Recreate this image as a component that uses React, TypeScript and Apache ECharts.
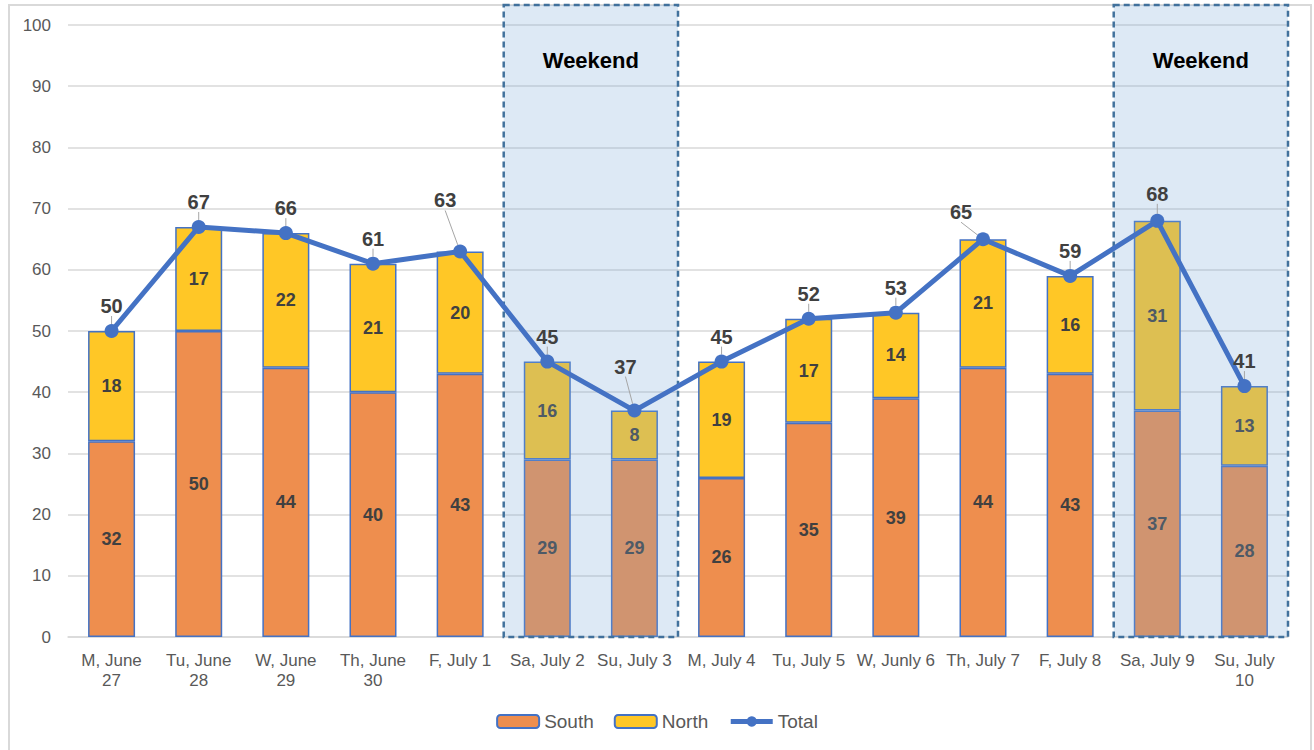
import React, { useEffect, useRef } from "react";
import * as echarts from "echarts";

const categories = [
  "M, June\n27", "Tu, June\n28", "W, June\n29", "Th, June\n30", "F, July 1",
  "Sa, July 2", "Su, July 3", "M, July 4", "Tu, July 5", "W, Junly 6",
  "Th, July 7", "F, July 8", "Sa, July 9", "Su, July\n10",
];
const south = [32, 50, 44, 40, 43, 29, 29, 26, 35, 39, 44, 43, 37, 28];
const north = [18, 17, 22, 21, 20, 16, 8, 19, 17, 14, 21, 16, 31, 13];
const total = [50, 67, 66, 61, 63, 45, 37, 45, 52, 53, 65, 59, 68, 41];
const weekends = [[5, 6], [12, 13]];
const weekendLabel = "Weekend";
// extra label shifts (px) for totals whose labels were moved, with leader lines
const labelShift: Record<number, [number, number]> = {
  4: [-15, -26],
  6: [-9, -19],
  10: [-22, -2],
  12: [0, -2],
};

const FONT = "'Liberation Sans', Arial, sans-serif";

export default function App() {
  const ref = useRef<HTMLDivElement>(null);
  useEffect(() => {
    document.body.style.margin = "0";
    const chart = echarts.init(ref.current!, null, { renderer: "svg" });
    const barLabel = {
      show: true,
      position: "inside",
      fontSize: 18,
      fontWeight: "bold",
      color: "#404040",
      fontFamily: FONT,
    };
    chart.setOption({
      animation: false,
      textStyle: { fontFamily: FONT },
      grid: { left: 68, right: 26, top: 25, bottom: 113, containLabel: false },
      legend: {
        bottom: 14,
        left: "center",
        itemWidth: 42,
        itemHeight: 13,
        itemGap: 20,
        textStyle: { fontSize: 19, color: "#595959", fontFamily: FONT },
        data: [
          "South",
          "North",
          { name: "Total", lineStyle: { width: 5, color: "#4472C4" } },
        ],
      },
      graphic: [
        {
          type: "rect",
          shape: { x: 9, y: 5, width: 1302, height: 746 },
          style: { fill: "none", stroke: "#D9D9D9", lineWidth: 2 },
          silent: true,
        },
      ],
      xAxis: {
        type: "category",
        data: categories,
        axisTick: { show: false },
        axisLine: { lineStyle: { color: "#D9D9D9", width: 1.5 } },
        axisLabel: {
          interval: 0,
          fontSize: 17,
          color: "#595959",
          lineHeight: 20,
          margin: 13,
          fontFamily: FONT,
        },
      },
      yAxis: {
        type: "value",
        min: 0,
        max: 100,
        interval: 10,
        axisLine: { show: false },
        axisTick: { show: false },
        axisLabel: { fontSize: 17, color: "#595959", margin: 17, fontFamily: FONT },
        splitLine: { lineStyle: { color: "#D9D9D9", width: 1.5 } },
      },
      series: [
        {
          name: "South",
          type: "bar",
          stack: "a",
          data: south,
          barWidth: 47,
          z: 2,
          itemStyle: { color: "#EE8E4E", borderColor: "#4472C4", borderWidth: 1.5 },
          label: barLabel,
        },
        {
          name: "North",
          type: "bar",
          stack: "a",
          data: north,
          barWidth: 47,
          z: 2,
          itemStyle: { color: "#FFC726", borderColor: "#4472C4", borderWidth: 1.5 },
          label: barLabel,
        },
        {
          name: "Weekend",
          type: "custom",
          z: 3,
          silent: true,
          clip: false,
          data: weekends,
          renderItem: (params: any, api: any) => {
            const a = api.value(0);
            const b = api.value(1);
            const bw = api.size([1, 0])[0];
            const p0 = api.coord([a, 0]);
            const p1 = api.coord([b, 100]);
            const x0 = p0[0] - bw / 2;
            const x1 = p1[0] + bw / 2;
            const yTop = p1[1] - 20;
            const yBot = p0[1];
            return {
              type: "group",
              children: [
                {
                  type: "rect",
                  shape: { x: x0, y: yTop, width: x1 - x0, height: yBot - yTop },
                  style: {
                    fill: "rgba(119,167,215,0.25)",
                    stroke: "#41719C",
                    lineWidth: 2.5,
                    lineDash: [6, 4],
                  },
                },
                {
                  type: "text",
                  x: (x0 + x1) / 2,
                  y: yTop + 55,
                  style: {
                    text: weekendLabel,
                    fill: "#000000",
                    fontSize: 22,
                    fontWeight: "bold",
                    fontFamily: FONT,
                    align: "center",
                    verticalAlign: "middle",
                  },
                },
              ],
            };
          },
        },
        {
          name: "Total",
          type: "line",
          data: total,
          z: 4,
          symbol: "circle",
          symbolSize: 14,
          color: "#4472C4",
          lineStyle: { color: "#4472C4", width: 5 },
          itemStyle: { color: "#4472C4" },
          label: {
            show: true,
            position: "top",
            distance: 8,
            fontSize: 20,
            fontWeight: "bold",
            color: "#404040",
            fontFamily: FONT,
          },
          labelLine: { show: true, lineStyle: { color: "#A6A6A6", width: 1 } },
          labelLayout: (p: any) => {
            const s = labelShift[p.dataIndex];
            return s ? { dx: s[0], dy: s[1] } : {};
          },
        },
      ],
    });
    return () => chart.dispose();
  }, []);
  return <div ref={ref} style={{ width: 1314, height: 750 }} />;
}
